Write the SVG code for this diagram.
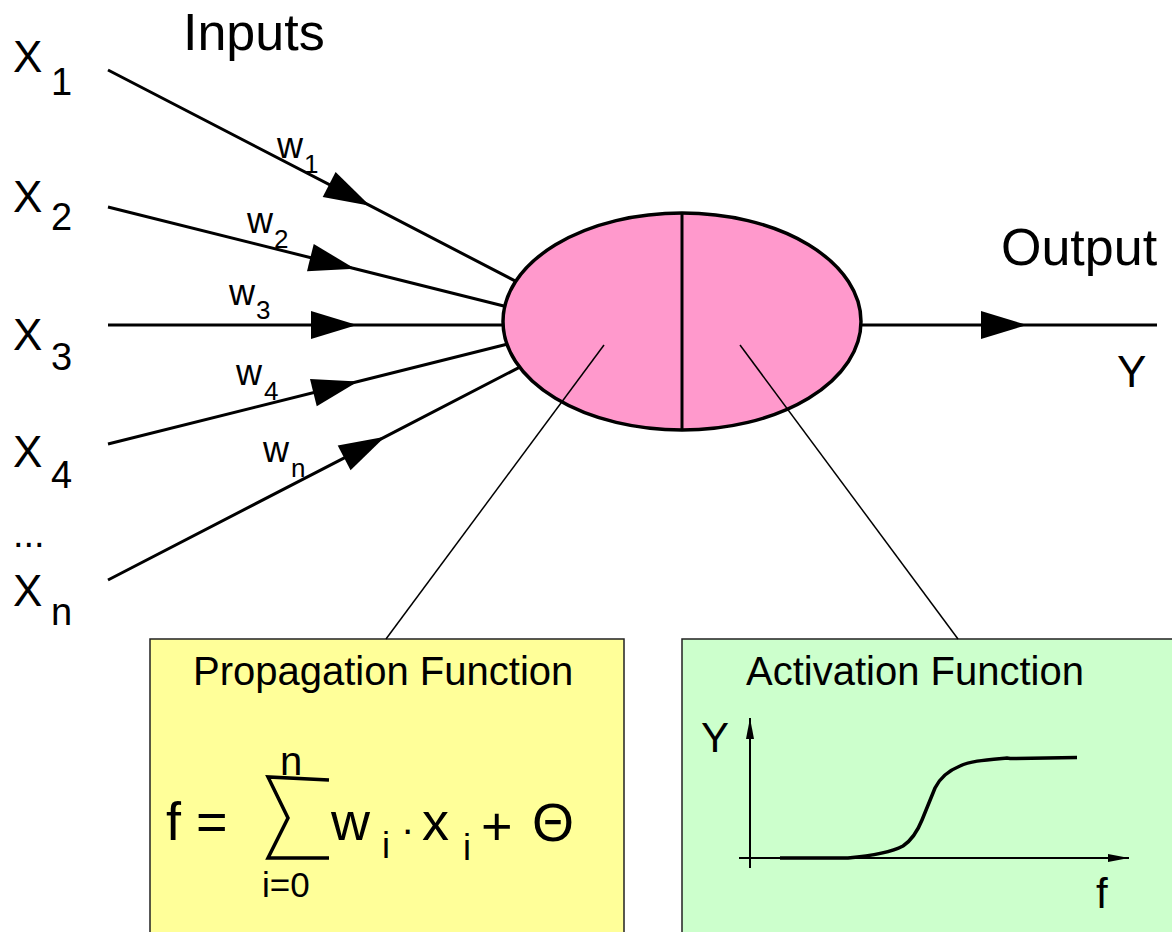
<svg xmlns="http://www.w3.org/2000/svg" width="1172" height="932" viewBox="0 0 1172 932">
<style>
text { font-family: "Liberation Sans", Arial, sans-serif; fill: #000; }
.conn { fill: none; stroke: #000; stroke-width: 3; marker-mid: url(#arr); }
.thin { fill: none; stroke: #000; stroke-width: 1.5; }
.box { stroke: #222; stroke-width: 1.5; }
.big { font-size: 52px; }
.xl { font-size: 44px; }
.xs { font-size: 38px; }
.wl { font-size: 36px; }
.ws { font-size: 26px; }
.hdr { font-size: 40px; }
.fm { font-size: 54px; }
.axis { fill: none; stroke: #000; stroke-width: 2; }
</style>
<defs>
<marker id="arr" markerUnits="userSpaceOnUse" markerWidth="60" markerHeight="40" viewBox="-50 -20 60 40" refX="0" refY="0" orient="auto">
<path d="M0,0 L-46,-14 L-46,14 Z" fill="#000"/>
</marker>
<marker id="sarr" markerUnits="userSpaceOnUse" markerWidth="30" markerHeight="12" viewBox="-24 -6 30 12" refX="0" refY="0" orient="auto">
<path d="M0,0 L-21,-4 L-21,4 Z" fill="#000"/>
</marker>
</defs>
<rect width="1172" height="932" fill="#fff"/>

<g id="inputs">
<text class="big" x="183" y="50">Inputs</text>
<text class="xl" x="13" y="72">X</text><text class="xs" x="51" y="95">1</text>
<text class="xl" x="13" y="212">X</text><text class="xs" x="51" y="230">2</text>
<text class="xl" x="13" y="350">X</text><text class="xs" x="51" y="370">3</text>
<text class="xl" x="13" y="467">X</text><text class="xs" x="51" y="488">4</text>
<text class="xs" x="13" y="547">...</text>
<text class="xl" x="13" y="606">X</text><text class="xs" x="51" y="625">n</text>
</g>

<g id="weights">
<text class="wl" x="277" y="158">w</text><text class="ws" x="304" y="173">1</text>
<text class="wl" x="247" y="233">w</text><text class="ws" x="274" y="248">2</text>
<text class="wl" x="229" y="305">w</text><text class="ws" x="256" y="319">3</text>
<text class="wl" x="236" y="385">w</text><text class="ws" x="264" y="400">4</text>
<text class="wl" x="263" y="462">w</text><text class="ws" x="291" y="477">n</text>
</g>

<g id="neuron">
<ellipse cx="682" cy="321.5" rx="179" ry="108.5" fill="#FF99CC" stroke="#000" stroke-width="3.5"/>
<line x1="682" y1="213" x2="682" y2="430" stroke="#000" stroke-width="3"/>
</g>

<g id="output">
<text class="big" x="1001" y="265">Output</text>
<text class="xl" x="1117" y="387">Y</text>
</g>

<g id="propagation">
<rect class="box" x="150" y="639" width="474" height="300" fill="#FFFF99"/>
<text class="hdr" x="193" y="685">Propagation Function</text>
<text class="fm" x="166" y="840">f</text>
<text class="fm" x="196" y="840">=</text>
<polyline points="329,780 268,777 288,818 268,858 329,858" fill="none" stroke="#000" stroke-width="3.5"/>
<text x="280" y="775" style="font-size:40px">n</text>
<text x="262" y="897" style="font-size:35px">i=0</text>
<text class="fm" x="331" y="840">w</text>
<text x="382" y="858" style="font-size:36px">i</text>
<text x="401" y="843" style="font-size:40px">·</text>
<text class="fm" x="422" y="840">x</text>
<text x="463" y="860" style="font-size:36px">i</text>
<text class="fm" x="481" y="845">+</text>
<text class="fm" x="532" y="841">Θ</text>
</g>

<g id="activation">
<rect class="box" x="682" y="639" width="500" height="300" fill="#CCFFCC"/>
<text class="hdr" x="746" y="685">Activation Function</text>
<line class="axis" x1="750" y1="868" x2="750" y2="718" marker-end="url(#sarr)"/>
<line class="axis" x1="739" y1="858" x2="1129" y2="858" marker-end="url(#sarr)"/>
<text x="701" y="752" style="font-size:42px">Y</text>
<text x="1096" y="908" style="font-size:42px">f</text>
<path d="M780,858 L848,858 C870,856 890,853 903,846 C912,840 918,830 922,820 L935,788 C940,778 950,770 960,766 C970,761 985,760 1007,758 L1010,758.5 L1077,757.5" fill="none" stroke="#000" stroke-width="3.5"/>
</g>

<g id="connectors">
<path class="conn" d="M108,70 L370,205.7 L515.5,281.1"/>
<path class="conn" d="M108,207 L355,268.75 L504.8,306.2"/>
<path class="conn" d="M108,325 L357,325 L503,325"/>
<path class="conn" d="M108,444 L358,381.5 L506.8,344.3"/>
<path class="conn" d="M108,580 L385,436.8 L519.8,367.1"/>
<path class="conn" d="M861,325 L1027,325 L1157,325"/>
<line class="thin" x1="604" y1="345" x2="386" y2="639"/>
<line class="thin" x1="740" y1="345" x2="958" y2="639"/>
</g>
</svg>
